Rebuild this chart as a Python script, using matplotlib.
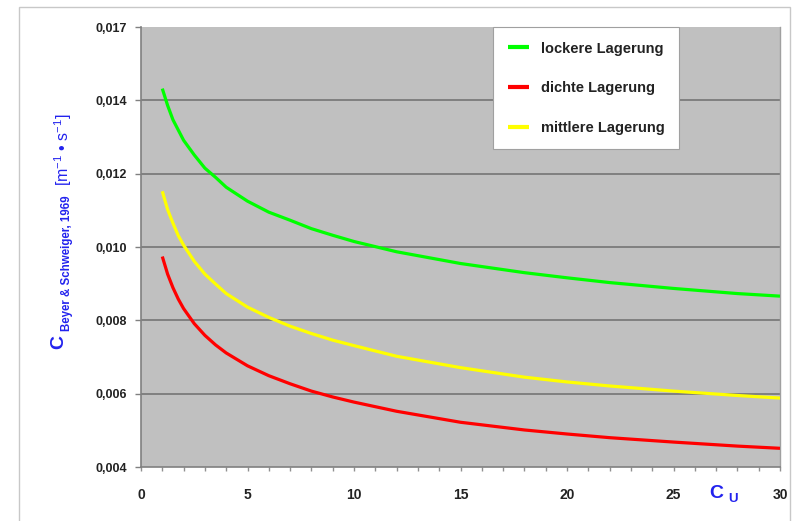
import matplotlib
matplotlib.use("Agg")
import matplotlib.pyplot as plt
from matplotlib.patches import Rectangle

plt.rcParams['font.family'] = ['Liberation Sans', 'DejaVu Sans']
plt.rcParams['mathtext.fontset'] = 'custom'
plt.rcParams['mathtext.rm'] = 'Liberation Sans'
plt.rcParams['mathtext.it'] = 'Liberation Sans:italic'
plt.rcParams['mathtext.bf'] = 'Liberation Sans:bold'

# ---- data ----
cu = [1, 1.25, 1.5, 1.75, 2, 2.5, 3, 3.5, 4, 5, 6, 7, 8, 9, 10, 12, 15, 18, 20, 22, 25, 28, 30]
locker = [0.01432, 0.01386, 0.01347, 0.01319, 0.01291, 0.01251, 0.01215, 0.01190,
          0.01163, 0.01125, 0.01095, 0.01073, 0.01050, 0.01032, 0.01015, 0.00987,
          0.00955, 0.00930, 0.00916, 0.00903, 0.00887, 0.00873, 0.00866]
mittel = [0.01152, 0.01102, 0.01065, 0.01031, 0.01005, 0.00961, 0.00926, 0.00899,
          0.00873, 0.00836, 0.00808, 0.00784, 0.00764, 0.00746, 0.00731, 0.00702,
          0.00671, 0.00645, 0.00632, 0.00621, 0.00607, 0.00595, 0.00588]
dicht = [0.00974, 0.00926, 0.00889, 0.00858, 0.00832, 0.00791, 0.00759, 0.00733,
         0.00711, 0.00676, 0.00649, 0.00627, 0.00607, 0.00591, 0.00577, 0.00552,
         0.00522, 0.00501, 0.00490, 0.00480, 0.00468, 0.00457, 0.00451]

labels = ['lockere Lagerung', 'dichte Lagerung', 'mittlere Lagerung']
colors = ['#00ff00', '#ff0000', '#ffff00']

yticks = [0.004, 0.006, 0.008, 0.010, 0.012, 0.014, 0.016]
ytick_labels = ['0,004', '0,006', '0,008', '0,010', '0,012', '0,014', '0,017']
xticks = [0, 5, 10, 15, 20, 25, 30]
xtick_labels = ['0', '5', '10', '15', '20', '25', '30']

W, H = 794, 521
fig = plt.figure(figsize=(W / 100, H / 100), dpi=100)
fig.patch.set_facecolor('white')

def fx(px):
    return px / W

def fy(py):
    return 1 - py / H

# outer frame
fig.patches.append(Rectangle((fx(19), fy(530)), fx(790) - fx(19), fy(7) - fy(530),
                             transform=fig.transFigure, fill=False,
                             edgecolor='#c8c8c8', linewidth=1.0, zorder=0))

ax = fig.add_axes([fx(141), fy(467), fx(780) - fx(141), fy(27) - fy(467)])
ax.set_facecolor('#c0c0c0')
ax.set_xlim(0, 30)
ax.set_ylim(0.004, 0.016)

for yv in yticks[1:-1]:
    ax.axhline(yv, color='#808080', linewidth=1.4, zorder=1)

series = [locker, dicht, mittel]
for vals, lab, col in zip(series, labels, colors):
    ax.plot(cu, vals, color=col, linewidth=2.3, label=lab, zorder=3,
            solid_capstyle='butt', solid_joinstyle='round')

ax.set_yticks(yticks)
ax.set_yticklabels(ytick_labels, fontsize=9, fontweight='bold', color='#222222')
ax.set_xticks(xticks)
ax.set_xticklabels(xtick_labels, fontsize=10, fontweight='bold', color='#222222')
ax.set_xticks(range(0, 31), minor=True)
ax.tick_params(axis='y', which='major', direction='out', length=4, width=1,
               color='#808080', pad=6)
ax.tick_params(axis='x', which='major', direction='out', length=3, width=1,
               color='#909090', pad=12)
ax.tick_params(axis='x', which='minor', direction='out', length=3, width=1,
               color='#909090')

ax.spines['top'].set_visible(False)
ax.spines['left'].set_color('#808080')
ax.spines['left'].set_linewidth(1.2)
ax.spines['bottom'].set_color('#808080')
ax.spines['bottom'].set_linewidth(1.2)
ax.spines['right'].set_color('#a0a0a0')
ax.spines['right'].set_linewidth(1.0)

leg = ax.legend(loc='upper left', bbox_to_anchor=(fx(493), fy(27)),
                bbox_transform=fig.transFigure, borderaxespad=0,
                frameon=True, fancybox=False, framealpha=1,
                prop={'size': 10.5, 'weight': 'bold'},
                handlelength=1.5, handletextpad=0.8, labelspacing=1.75,
                borderpad=1.0)
leg.get_frame().set_facecolor('white')
leg.get_frame().set_edgecolor('#a0a0a0')
leg.get_frame().set_linewidth(0.8)
for t in leg.get_texts():
    t.set_color('#222222')
for h in leg.get_lines():
    h.set_linewidth(3)

blue = '#2222ee'
# y-axis label pieces
fig.text(fx(59), fy(349), 'C', rotation=90, ha='center', va='bottom',
         fontsize=14, fontweight='bold', color=blue)
fig.text(fx(67), fy(331), 'Beyer & Schweiger, 1969', rotation=90, ha='center',
         va='bottom', fontsize=8.3, fontweight='bold', color=blue)
fig.text(fx(63), fy(186), r'[m$^{-1}$ • s$^{-1}$]', rotation=90, ha='center',
         va='bottom', fontsize=11.5, color=blue)

# x-axis label pieces
fig.text(fx(716), fy(493), 'C', ha='center', va='center', fontsize=14,
         fontweight='bold', color=blue)
fig.text(fx(733), fy(499), 'U', ha='center', va='center', fontsize=9.5,
         fontweight='bold', color=blue)

fig.savefig('out.png', dpi=100, facecolor='white')
